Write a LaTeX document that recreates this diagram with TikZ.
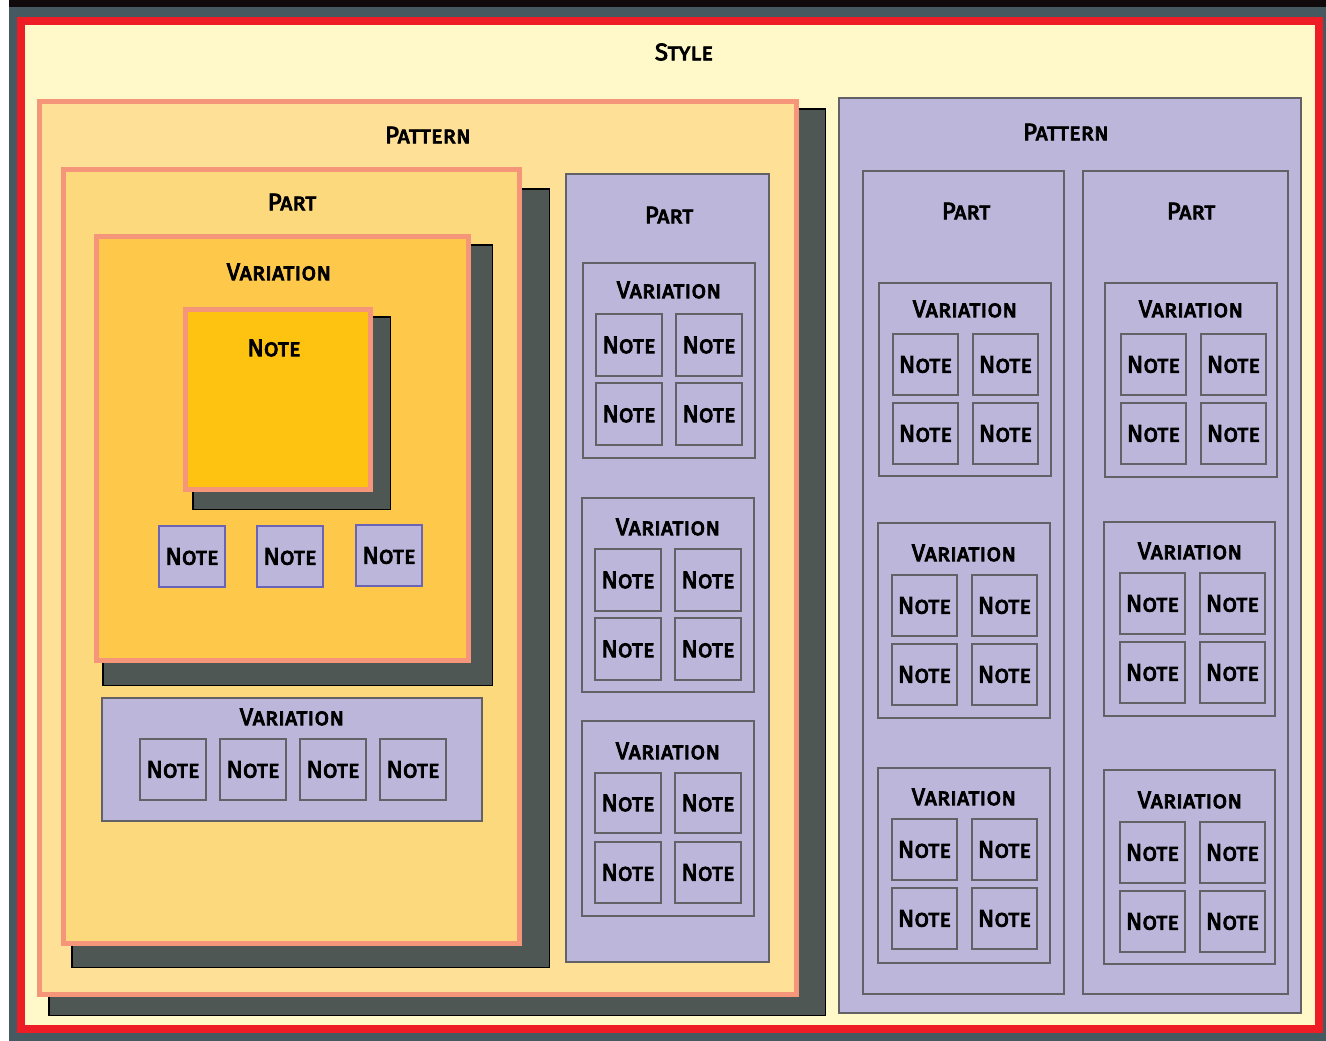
\documentclass[tikz,border=0pt]{standalone}
\usepackage{fontspec}
\setmainfont{Fira Sans}[BoldFont={Fira Sans}, BoldFeatures={FakeBold=3.5}]
\definecolor{slate}{HTML}{455A60}
\definecolor{topbar}{HTML}{100A0C}
\definecolor{stylered}{HTML}{EE1C25}
\definecolor{stylefill}{HTML}{FFF9C9}
\definecolor{patfill}{HTML}{FEE097}
\definecolor{partfill}{HTML}{FDD97D}
\definecolor{varfill}{HTML}{FEC94A}
\definecolor{notefill}{HTML}{FEC310}
\definecolor{salmon}{HTML}{F5957A}
\definecolor{shade}{HTML}{4E5753}
\definecolor{lav}{HTML}{BCB6DA}
\definecolor{greyline}{HTML}{626266}
\definecolor{noteline}{HTML}{6B63B3}
% box from its top-left and bottom-right corner (centre of the border line)
\newcommand\boxat[7][]{\node[#2, anchor=north west, inner sep=0pt, outer sep=0pt,
  minimum width={(#6-#4)*1pt}, minimum height={(#7-#5)*1pt}] (#3) at (#4,#5) {#1};}
\begin{document}
\begin{tikzpicture}[x=1pt, y=-1pt,
  every node/.style={font=\fontsize{24}{28}\selectfont\bfseries\scshape, text=black},
  stylebox/.style={draw=stylered, line width=8pt, fill=stylefill},
  warmpat/.style={draw=salmon, line width=5pt, fill=patfill},
  warmpart/.style={draw=salmon, line width=5pt, fill=partfill},
  warmvar/.style={draw=salmon, line width=5pt, fill=varfill},
  warmnote/.style={draw=salmon, line width=5pt, fill=notefill},
  dropshade/.style={draw=black, line width=1.5pt, fill=shade},
  coolbox/.style={draw=greyline, line width=2pt, fill=lav},
  coolnote/.style={draw=greyline, line width=2pt, fill=lav},
  bluenote/.style={draw=noteline, line width=2pt, fill=lav},
  title/.style={inner sep=0pt}]
\useasboundingbox (0,0) rectangle (1326,1041);
% frame around the page
\fill[white] (0,0) rectangle (1326,1041);
\fill[topbar] (9,0) rectangle (1326,7);
\fill[slate] (9,7) rectangle (1326,1041);

% Style
\boxat{stylebox}{style}{21}{21}{1319}{1029}
\node[title] (styleT) at (684,52) {Style};

% ---------- left pattern ----------
\boxat{dropshade}{patLs}{48.75}{108.75}{825.25}{1015.25}
\boxat{warmpat}{patL}{39.5}{101.5}{796.5}{994.5}
\node[title] (patLT) at (428,135) {Pattern};

\boxat{dropshade}{partLs}{71.75}{188.75}{549.25}{967.25}
\boxat{warmpart}{partL}{63.5}{169.5}{519.5}{943.5}
\node[title] (partLT) at (292,202) {Part};

\boxat{dropshade}{varOs}{102.75}{244.75}{492.25}{685.25}
\boxat{warmvar}{varO}{96.5}{236.5}{468.5}{660.5}
\node[title] (varOT) at (279,272) {Variation};

\boxat{dropshade}{bigNs}{192.75}{316.75}{390.25}{509.25}
\boxat{warmnote}{bigN}{185.5}{309.5}{370.5}{489.5}
\node[title] (bigNT) at (274,348) {Note};

\boxat[Note]{bluenote}{sn1}{159}{526}{225}{587}
\boxat[Note]{bluenote}{sn2}{257}{526}{323}{587}
\boxat[Note]{bluenote}{sn3}{356}{525}{422}{586}

\boxat{coolbox}{varL}{102}{698}{482}{821}
\node[title] (varLT) at (292,717) {Variation};
\boxat[Note]{coolnote}{vl1}{140}{739}{206}{800}
\boxat[Note]{coolnote}{vl2}{220}{739}{286}{800}
\boxat[Note]{coolnote}{vl3}{300}{739}{366}{800}
\boxat[Note]{coolnote}{vl4}{380}{739}{446}{800}

% middle part
\boxat{coolbox}{partM}{566}{174}{769}{962}
\node[title] (partMT) at (669,215) {Part};

\boxat{coolbox}{varM1}{583}{263}{755}{458}
\node[title] (varM1T) at (669,290) {Variation};
\boxat[Note]{coolnote}{m1a}{596}{314}{662}{376}
\boxat[Note]{coolnote}{m1b}{676}{314}{742}{376}
\boxat[Note]{coolnote}{m1c}{596}{383}{662}{445}
\boxat[Note]{coolnote}{m1d}{676}{383}{742}{445}

\boxat{coolbox}{varM2}{582}{498}{754}{692}
\node[title] (varM2T) at (668,527) {Variation};
\boxat[Note]{coolnote}{m2a}{595}{549}{661}{611}
\boxat[Note]{coolnote}{m2b}{675}{549}{741}{611}
\boxat[Note]{coolnote}{m2c}{595}{618}{661}{680}
\boxat[Note]{coolnote}{m2d}{675}{618}{741}{680}

\boxat{coolbox}{varM3}{582}{721}{754}{916}
\node[title] (varM3T) at (668,751) {Variation};
\boxat[Note]{coolnote}{m3a}{595}{773}{661}{833}
\boxat[Note]{coolnote}{m3b}{675}{773}{741}{833}
\boxat[Note]{coolnote}{m3c}{595}{842}{661}{903}
\boxat[Note]{coolnote}{m3d}{675}{842}{741}{903}

% ---------- right pattern ----------
\boxat{coolbox}{patR}{839}{98}{1301}{1013}
\node[title] (patRT) at (1066,132) {Pattern};

\boxat{coolbox}{partA}{863}{171}{1064}{994}
\node[title] (partAT) at (966,211) {Part};
\boxat{coolbox}{partB}{1083}{171}{1288}{994}
\node[title] (partBT) at (1191,211) {Part};

\boxat{coolbox}{varA1}{879}{283}{1051}{476}
\node[title] (varA1T) at (965,309) {Variation};
\boxat[Note]{coolnote}{a1a}{893}{334}{958}{395}
\boxat[Note]{coolnote}{a1b}{973}{334}{1038}{395}
\boxat[Note]{coolnote}{a1c}{893}{403}{958}{464}
\boxat[Note]{coolnote}{a1d}{973}{403}{1038}{464}

\boxat{coolbox}{varA2}{878}{523}{1050}{718}
\node[title] (varA2T) at (964,553) {Variation};
\boxat[Note]{coolnote}{a2a}{892}{575}{957}{636}
\boxat[Note]{coolnote}{a2b}{972}{575}{1037}{636}
\boxat[Note]{coolnote}{a2c}{892}{644}{957}{705}
\boxat[Note]{coolnote}{a2d}{972}{644}{1037}{705}

\boxat{coolbox}{varA3}{878}{768}{1050}{963}
\node[title] (varA3T) at (964,797) {Variation};
\boxat[Note]{coolnote}{a3a}{892}{819}{957}{880}
\boxat[Note]{coolnote}{a3b}{972}{819}{1037}{880}
\boxat[Note]{coolnote}{a3c}{892}{888}{957}{949}
\boxat[Note]{coolnote}{a3d}{972}{888}{1037}{949}

\boxat{coolbox}{varB1}{1105}{283}{1277}{477}
\node[title] (varB1T) at (1191,309) {Variation};
\boxat[Note]{coolnote}{b1a}{1121}{334}{1186}{395}
\boxat[Note]{coolnote}{b1b}{1201}{334}{1266}{395}
\boxat[Note]{coolnote}{b1c}{1121}{403}{1186}{464}
\boxat[Note]{coolnote}{b1d}{1201}{403}{1266}{464}

\boxat{coolbox}{varB2}{1104}{522}{1275}{716}
\node[title] (varB2T) at (1190,551) {Variation};
\boxat[Note]{coolnote}{b2a}{1120}{573}{1185}{634}
\boxat[Note]{coolnote}{b2b}{1200}{573}{1265}{634}
\boxat[Note]{coolnote}{b2c}{1120}{642}{1185}{703}
\boxat[Note]{coolnote}{b2d}{1200}{642}{1265}{703}

\boxat{coolbox}{varB3}{1104}{770}{1275}{964}
\node[title] (varB3T) at (1190,800) {Variation};
\boxat[Note]{coolnote}{b3a}{1120}{822}{1185}{883}
\boxat[Note]{coolnote}{b3b}{1200}{822}{1265}{883}
\boxat[Note]{coolnote}{b3c}{1120}{891}{1185}{952}
\boxat[Note]{coolnote}{b3d}{1200}{891}{1265}{952}
\end{tikzpicture}
\end{document}
